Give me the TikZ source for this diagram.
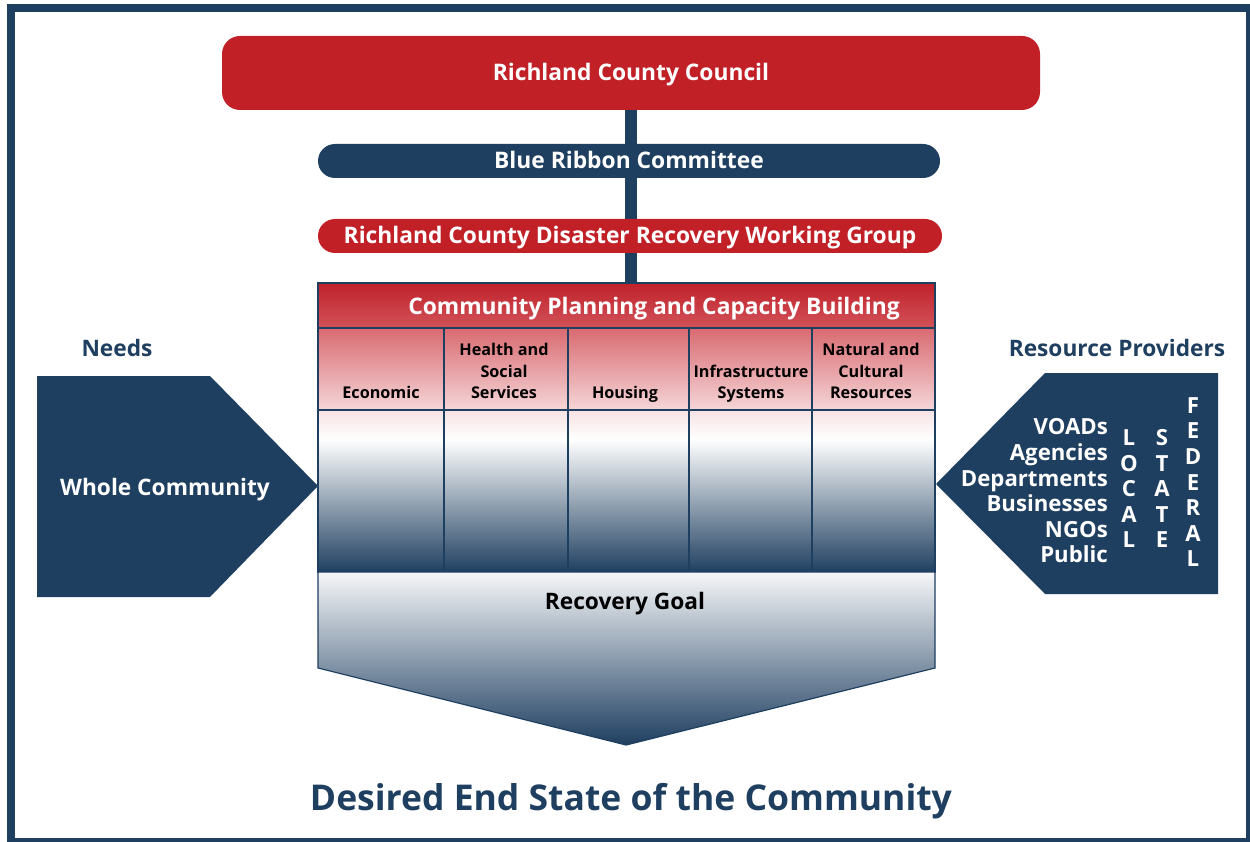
\documentclass[tikz,border=0pt]{standalone}
\usepackage{fontspec}
\setmainfont{Open Sans}
\usetikzlibrary{backgrounds}
\definecolor{navy}{RGB}{31,63,96}
\definecolor{rcred}{RGB}{193,32,39}
\definecolor{hdtop}{RGB}{192,34,43}
\definecolor{hdbot}{RGB}{210,82,89}
\definecolor{shtop}{RGB}{216,106,112}
\definecolor{shbot}{RGB}{245,214,216}
\definecolor{pinkw}{RGB}{247,226,228}
\definecolor{goaltop}{RGB}{246,247,249}
\pgfdeclareverticalshading{bodyshade}{100bp}{color(0bp)=(navy); color(25bp)=(navy); color(66bp)=(white); color(75bp)=(pinkw); color(100bp)=(pinkw)}
\tikzset{
  boxtext/.style={text=white, font=\fontsize{22.8}{27}\selectfont\bfseries, inner sep=0pt, anchor=base},
  pill/.style={inner sep=0pt},
  navytitle/.style={text=navy, font=\fontsize{22.7}{27}\selectfont\bfseries, inner sep=0pt, anchor=base},
  subcell/.style={draw=navy, line width=1.5pt, top color=shtop, bottom color=shbot, inner sep=0pt},
  bodycell/.style={draw=navy, line width=1.5pt, shading=bodyshade, inner sep=0pt},
  subtext/.style={text=black, font=\fontsize{16.2}{21.5}\selectfont\bfseries, align=center, anchor=south, inner sep=0pt, text depth=0pt},
  rptext/.style={text=white, font=\fontsize{22.2}{25.6}\selectfont\bfseries, inner sep=0pt, text depth=0pt, anchor=south},
}
\begin{document}
\begin{tikzpicture}[x=1pt,y=-1pt]
\useasboundingbox (0,0) rectangle (1250,842);
\begin{pgfonlayer}{background}
\fill[navy] (7,4) rectangle (1250,842);
\fill[white] (15,12) rectangle (1246,838);
\end{pgfonlayer}

% top boxes
\node[pill, fill=rcred, rounded corners=18pt, minimum width=818pt, minimum height=74pt] (council) at (631,73) {};
\node[boxtext] (counciltext) at (631,81) {Richland County Council};
\node[pill, fill=navy, rounded corners=17pt, minimum width=622pt, minimum height=34pt] (brc) at (629,161) {};
\node[boxtext] (brctext) at (629,169) {Blue Ribbon Committee};
\node[pill, fill=rcred, rounded corners=17pt, minimum width=624pt, minimum height=34pt] (wg) at (630,236) {};
\node[boxtext] (wgtext) at (630,244) {Richland County Disaster Recovery Working Group};

% table header
\node[draw=navy, line width=1.5pt, top color=hdtop, bottom color=hdbot, minimum width=617pt, minimum height=45pt, inner sep=0pt] (cpcb) at (626.5,305.5) {};
\node[boxtext] (cpcbtext) at (654,315) {Community Planning and Capacity Building};

% sub header cells and body cells
\node[subcell, minimum width=126pt, minimum height=82pt] (s1) at (381,369) {};
\node[subcell, minimum width=124pt, minimum height=82pt] (s2) at (506,369) {};
\node[subcell, minimum width=121pt, minimum height=82pt] (s3) at (628.5,369) {};
\node[subcell, minimum width=123pt, minimum height=82pt] (s4) at (750.5,369) {};
\node[subcell, minimum width=123pt, minimum height=82pt] (s5) at (873.5,369) {};
\node[bodycell, minimum width=126pt, minimum height=162pt] (b1) at (381,491) {};
\node[bodycell, minimum width=124pt, minimum height=162pt] (b2) at (506,491) {};
\node[bodycell, minimum width=121pt, minimum height=162pt] (b3) at (628.5,491) {};
\node[bodycell, minimum width=123pt, minimum height=162pt] (b4) at (750.5,491) {};
\node[bodycell, minimum width=123pt, minimum height=162pt] (b5) at (873.5,491) {};

\node[subtext] (t1) at (381,399) {Economic};
\node[subtext] (t2) at (504,399) {Health and\\Social\\Services};
\node[subtext] (t3) at (625,399) {Housing};
\node[subtext] (t4) at (751,399) {Infrastructure\\Systems};
\node[subtext] (t5) at (871,399) {Natural and\\Cultural\\Resources};

% recovery goal
\path[draw=navy, line width=1.2pt, top color=goaltop, bottom color=navy]
  (318,572) -- (935,572) -- (935,668) -- (626,745) -- (318,668) -- cycle;
\node[navytitle, text=black] (goal) at (625,609) {Recovery Goal};

% connector spine
\begin{pgfonlayer}{background}
\draw[navy, line width=12pt] (council.south) -- (council.south |- cpcb.north);
\end{pgfonlayer}

% left arrow
\fill[navy] (37,376) -- (210,376) -- (318,486) -- (210,597) -- (37,597) -- cycle;
\node[navytitle, text=white] (whole) at (165,495) {Whole Community};
\node[navytitle] (needs) at (117,356) {Needs};

% right arrow
\fill[navy] (1218,373) -- (1045,373) -- (936,484) -- (1045,594) -- (1218,594) -- cycle;
\node[navytitle] (rp) at (1117,356) {Resource Providers};
\node[rptext, align=right, anchor=south east] (orgs) at (1108,563) {VOADs\\Agencies\\Departments\\Businesses\\NGOs\\Public};
\node[rptext, align=center] (local) at (1129,548) {L\\O\\C\\A\\L};
\node[rptext, align=center] (state) at (1162,548) {S\\T\\A\\T\\E};
\node[rptext, align=center] (federal) at (1193,567) {F\\E\\D\\E\\R\\A\\L};

% bottom text
\node[navytitle, font=\fontsize{35.5}{42}\selectfont\bfseries] (desired) at (631,810) {Desired End State of the Community};
\end{tikzpicture}
\end{document}
